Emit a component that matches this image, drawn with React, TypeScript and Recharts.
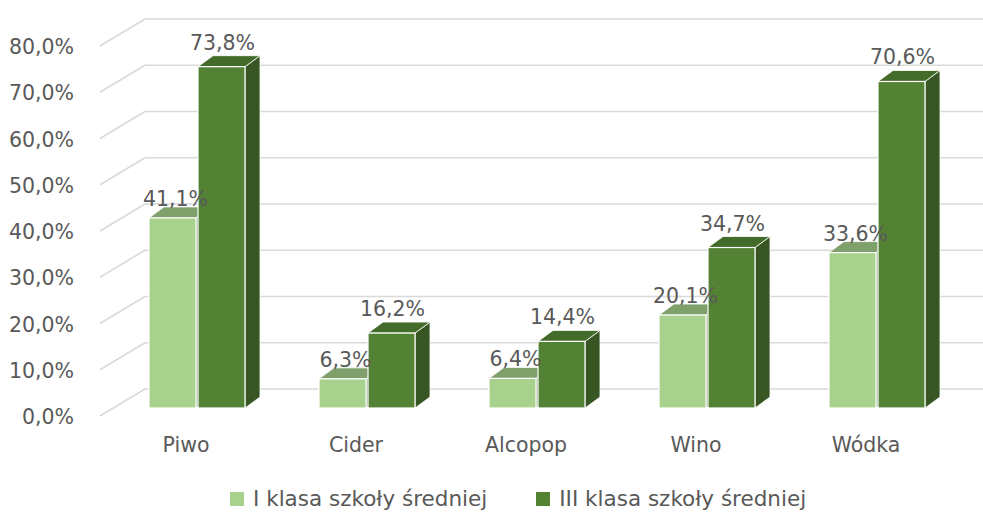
import React from 'react';
import { BarChart, Bar, XAxis, YAxis, CartesianGrid, Legend, LabelList } from 'recharts';

const categories = ['Piwo', 'Cider', 'Alcopop', 'Wino', 'Wódka'];
const klasaI = [41.1, 6.3, 6.4, 20.1, 33.6];
const klasaIII = [73.8, 16.2, 14.4, 34.7, 70.6];
const yTicks = [0, 10, 20, 30, 40, 50, 60, 70, 80];

const seriesNames = ['I klasa szkoły średniej', 'III klasa szkoły średniej'];

const W = 983;
const H = 514;
const FONT = '"DejaVu Sans", sans-serif';
const TEXT = '#595959';
const DX = 15;
const DY = 11;

const data = categories.map((name, i) => ({ name, a: klasaI[i], b: klasaIII[i] }));

const fmt = (v: number) => v.toFixed(1).replace('.', ',') + '%';

const colors = {
    a: { front: '#a9d18e', top: '#7f9f6b', side: '#6f8f5c' },
    b: { front: '#548235', top: '#436c2b', side: '#375623' },
};

function makeShape(c: { front: string; top: string; side: string }) {
    return (props: any) => {
        const { x, y, width, height } = props;
        if (height == null || width == null) return null;
        const bottom = y + height;
        return (
            <g>
                <polygon
                    points={`${x + width},${y} ${x + width + DX},${y - DY} ${x + width + DX},${bottom - DY} ${x + width},${bottom}`}
                    fill={c.side}
                    stroke="#ffffff"
                    strokeWidth={0.8}
                />
                <polygon
                    points={`${x},${y} ${x + DX},${y - DY} ${x + width + DX},${y - DY} ${x + width},${y}`}
                    fill={c.top}
                    stroke="#ffffff"
                    strokeWidth={0.8}
                />
                <rect x={x} y={y} width={width} height={height} fill={c.front} stroke="#ffffff" strokeWidth={1.2} />
            </g>
        );
    };
}

function makeLabel(dxText: number, dyText: number) {
    return (props: any) => {
        const { x, y, width, value } = props;
        return (
            <text
                x={x + width / 2 + dxText}
                y={y - dyText}
                textAnchor="middle"
                fontFamily={FONT}
                fontSize={20.5}
                fill={TEXT}
            >
                {fmt(value)}
            </text>
        );
    };
}

const YTick = (props: any) => {
    const { x, y, payload } = props;
    return (
        <g>
            <line x1={x - 12} y1={y + 8} x2={x + 33} y2={y - 19} stroke="#d9d9d9" strokeWidth={1.5} />
            <text x={x - 38} y={y + 16} textAnchor="end" fontFamily={FONT} fontSize={20.5} fill={TEXT}>
                {fmt(payload.value)}
            </text>
        </g>
    );
};

const XTick = (props: any) => {
    const { x, y, payload } = props;
    return (
        <text x={x - 11} y={y + 44} textAnchor="middle" fontFamily={FONT} fontSize={20.5} fill={TEXT}>
            {payload.value}
        </text>
    );
};

const BackLine = (props: any) => {
    const { x1, x2, y1 } = props;
    return <line key={props.key ?? `${y1}`} x1={x1 + 33} x2={x2 + 21} y1={y1 - 19} y2={y1 - 19} stroke="#d9d9d9" strokeWidth={1.5} />;
};

const LegendContent = () => (
    <div style={{ display: 'flex', fontFamily: FONT, fontSize: 21.5, color: TEXT, lineHeight: '24px', whiteSpace: 'nowrap' }}>
        {seriesNames.map((n, i) => (
            <div key={n} style={{ display: 'flex', alignItems: 'center', marginRight: i === 0 ? 49 : 0 }}>
                <span
                    style={{
                        display: 'inline-block',
                        width: 14,
                        height: 14,
                        background: i === 0 ? colors.a.front : colors.b.front,
                        marginRight: 9,
                    }}
                />
                {n}
            </div>
        ))}
    </div>
);

export default function App() {
    return (
        <div style={{ width: W, height: H }}>
            <style>{`body{margin:0}`}</style>
            <BarChart
                width={W}
                height={H}
                data={data}
                margin={{ top: 38, right: 21, left: 0, bottom: 76 }}
                barSize={47}
                barGap={2}
            >
                <CartesianGrid vertical={false} horizontal={BackLine} />
                <XAxis
                    dataKey="name"
                    axisLine={false}
                    tickLine={false}
                    tickSize={0}
                    tickMargin={0}
                    height={30}
                    tick={<XTick />}
                    interval={0}
                />
                <YAxis
                    domain={[0, 80]}
                    ticks={yTicks}
                    axisLine={false}
                    tickLine={false}
                    tickSize={0}
                    tickMargin={0}
                    width={112}
                    tick={<YTick />}
                    interval={0}
                />
                <Legend
                    layout="horizontal"
                    verticalAlign="middle"
                    align="center"
                    content={<LegendContent />}
                    wrapperStyle={{ top: 487, left: 230, width: 660 }}
                />
                <Bar dataKey="a" name={seriesNames[0]} shape={makeShape(colors.a)} isAnimationActive={false}>
                    <LabelList dataKey="a" content={makeLabel(3, 12)} />
                </Bar>
                <Bar dataKey="b" name={seriesNames[1]} shape={makeShape(colors.b)} isAnimationActive={false}>
                    <LabelList dataKey="b" content={makeLabel(1, 17)} />
                </Bar>
            </BarChart>
        </div>
    );
}
